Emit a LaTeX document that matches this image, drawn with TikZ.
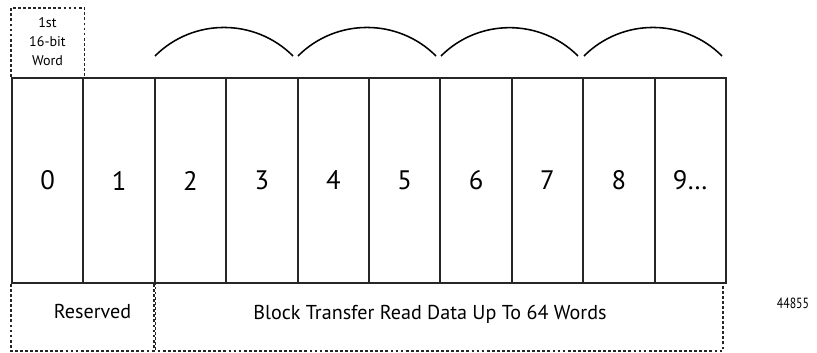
\documentclass[tikz,border=0pt]{standalone}
\usepackage{fontspec}
\setmainfont{PT Sans}
\newfontfamily\narrowfont[FakeStretch=0.8]{PT Sans}
\usetikzlibrary{calc, positioning}
\tikzset{
  wordcell/.style={rectangle, draw=black!85, line width=1.4pt,
    minimum width=1.785cm, minimum height=5.125cm, inner sep=0pt,
    font=\fontsize{19}{21}\selectfont},
  dashbox/.style={draw=black!85, line width=1pt, dash pattern=on 2pt off 1.6pt},
  span/.style={line width=1.1pt},
  wlabel/.style={font=\fontsize{14.3}{16}\selectfont, inner sep=0pt},
  toplabel/.style={font=\fontsize{10}{13.5}\selectfont, align=center, inner sep=0pt},
  figno/.style={font=\narrowfont\fontsize{10.5}{12}\selectfont, inner sep=0pt}
}

\begin{document}
\begin{tikzpicture}[x=0.025cm, y=-0.025cm]
\useasboundingbox (0,0) rectangle (817,353);

%% Dashed frames (top word marker, bottom spans)
\node[toplabel] (first) at (47.5,42) {1st\\16-bit\\Word};
\node[wlabel, anchor=base] (reserved) at (92.5,319) {Reserved};
\node[wlabel, anchor=base] (data) at (430,320) {Block Transfer Read Data Up To 64 Words};

%% Word cells
\foreach \i/\t in {0/0,1/1,2/2,3/3,4/4,5/5,6/6,7/7,8/8,9/9\ldots}
  \node[wordcell] (c\i) at ({47.7+71.4*\i},180.5) {\t};

\draw[dashbox] (c0.north west) -- ++(0,-69) -| (c0.north east);
\draw[dashbox] (c0.south west) -- ++(0,67) -| (c1.south east);
\draw[dashbox] (c2.south west) -- ++(0,67) -| ($(c9.south east)+(-4,0)$);

%% Spans over word pairs
\foreach \a/\b in {155/293, 298/436, 441/578, 584/722}
  \draw[span] (\a,56) to[bend left=45] (\b,56);

\node[figno] (fig) at (793,303) {44855};

\end{tikzpicture}
\end{document}
